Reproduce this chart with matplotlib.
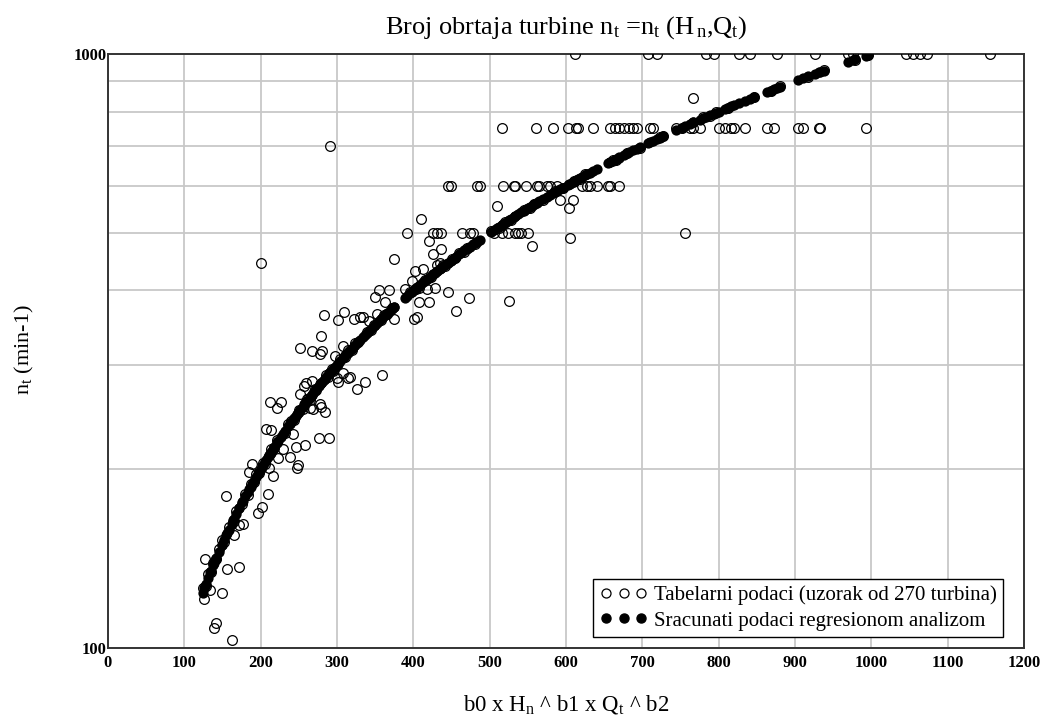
import matplotlib
matplotlib.use("Agg")
import matplotlib.pyplot as plt
from matplotlib.lines import Line2D
from matplotlib.ticker import FixedLocator, NullFormatter

plt.rcParams['font.family'] = ['Liberation Serif', 'DejaVu Serif']
plt.rcParams['mathtext.fontset'] = 'custom'
plt.rcParams['mathtext.rm'] = 'Liberation Serif'
plt.rcParams['mathtext.it'] = 'Liberation Serif:italic'

# ---- data: regression value (x) and tabulated speed (n) for each turbine ----
pred = [
    # lower cluster
    155, 127, 126, 134, 149, 156, 172, 141, 139, 162, 177, 172, 165, 149, 189, 185,
    210, 202, 196, 216, 211, 207, 213, 221, 227, 212, 242, 258, 246, 238, 223, 229,
    249, 248, 276, 290, 284, 279, 265, 269,
    # middle cluster
    200, 252, 267, 278, 280, 297, 260, 257, 267, 252, 278,
    510, 592, 609, 604, 605, 410, 555, 420, 436, 426, 375, 431, 435, 402, 413, 398,
    389, 355, 368, 350, 407, 418, 428, 445, 473, 456, 525, 407, 420, 401, 405, 363,
    375, 352, 309, 301, 322, 330, 334, 342, 283, 279, 308, 308, 317, 314, 300, 301,
    337, 326, 359, 291, 767,
    # n = 500
    392, 426, 431, 436, 464, 474, 478, 506, 516, 524, 533, 537, 541, 550, 756,
    # n = 600
    445, 449, 483, 487, 518, 532, 533, 548, 562, 565, 575, 579, 588, 621, 627, 631,
    640, 655, 658, 669,
    # n = 750
    516, 561, 583, 602, 613, 616, 636, 658, 664, 670, 676, 683, 688, 693, 710, 714,
    744, 762, 767, 775, 800, 808, 816, 820, 834, 863, 872, 904, 911, 931, 933, 993,
    # n = 1000
    612, 707, 719, 784, 794, 826, 841, 876, 926, 970, 976, 1046, 1055, 1064, 1073, 1155,
    # turbines lying on the regression curve
    124, 128, 131, 135, 138, 142, 145, 152, 158, 164, 168, 176, 180, 183, 187, 191,
    194, 198, 203, 206, 214, 218, 222, 232, 236, 240, 244, 250, 255, 261, 264, 271,
    273, 286, 288, 293, 295, 304, 311, 315, 319, 324, 328, 339, 345, 348, 358, 362,
    366, 372, 396, 404, 415, 423, 439, 442, 450, 454, 460, 467, 470, 481, 502, 512,
    520, 528, 545, 553, 558, 570, 585, 596, 610, 618, 625, 661, 666, 680, 697, 723,
    727, 752, 780, 788, 797, 812, 846, 868, 880, 917, 938, 979, 996,
]
actual = [
    180, 141, 121, 125, 124, 136, 137, 110, 108, 103, 162, 161, 155, 152, 204, 198,
    182, 173, 169, 195, 201, 234, 233, 254, 259, 260, 229, 220, 218, 210, 209, 216,
    203, 201, 226, 226, 250, 255, 254, 253,
    445, 320, 316, 312, 316, 310, 279, 276, 281, 268, 257,
    555, 568, 568, 550, 490, 527, 475, 484, 470, 461, 452, 441, 445, 431, 435, 415,
    402, 400, 400, 390, 404, 402, 404, 398, 388, 369, 384, 382, 382, 358, 361, 382,
    358, 365, 368, 356, 358, 361, 361, 355, 363, 335, 322, 290, 286, 285, 285, 280,
    280, 273, 288, 700, 843,
    500, 500, 500, 500, 500, 500, 500, 500, 500, 500, 500, 500, 500, 500, 500,
    600, 600, 600, 600, 600, 600, 600, 600, 600, 600, 600, 600, 600, 600, 600, 600,
    600, 600, 600, 600,
    750, 750, 750, 750, 750, 750, 750, 750, 750, 750, 750, 750, 750, 750, 750, 750,
    750, 750, 750, 750, 750, 750, 750, 750, 750, 750, 750, 750, 750, 750, 750, 750,
    1000, 1000, 1000, 1000, 1000, 1000, 1000, 1000, 1000, 1000, 1000, 1000, 1000, 1000, 1000, 1000,
    126, 127, 133, 134, 139, 141, 147, 151, 160, 163, 170, 175, 182, 181, 189, 190,
    196, 197, 205, 204, 216, 217, 224, 230, 238, 241, 242, 252, 253, 263, 262, 273,
    272, 288, 286, 295, 293, 306, 309, 317, 318, 326, 327, 341, 343, 350, 356, 364,
    365, 374, 398, 402, 417, 421, 441, 440, 452, 453, 462, 465, 472, 479, 504, 510,
    522, 526, 547, 551, 560, 568, 587, 594, 612, 616, 627, 663, 664, 682, 695, 725,
    729, 750, 782, 786, 799, 810, 848, 866, 882, 915, 940, 977, 998,
]

x_ticks = [0, 100, 200, 300, 400, 500, 600, 700, 800, 900, 1000, 1100, 1200]
y_major = [100, 1000]
y_minor = [200, 300, 400, 500, 600, 700, 800, 900]

title = r"Broj obrtaja turbine $\mathregular{n_t}$ =$\mathregular{n_t}$ ($\mathregular{H_{\,n}}$,$\mathregular{Q_t}$)"
xlabel = r"b0 x $\mathregular{H_n}$ ^ b1 x $\mathregular{Q_t}$ ^ b2"
ylabel = r"$\mathregular{n_t}$ (min-1)"
legend_labels = ["Tabelarni podaci (uzorak od 270 turbina)",
                 "Sracunati podaci regresionom analizom"]

# ---- figure ----
W, H = 1045, 716
fig = plt.figure(figsize=(W / 100, H / 100), dpi=100)
L, R, T, B = 108, 1024, 54, 648
ax = fig.add_axes([L / W, 1 - B / H, (R - L) / W, (B - T) / H])

ax.set_yscale('log')
ax.set_xlim(0, 1200)
ax.set_ylim(100, 1000)

ax.plot(pred, actual, linestyle='none', marker='o', markersize=7,
        markerfacecolor='none', markeredgecolor='black', markeredgewidth=0.9,
        zorder=3)
ax.plot(pred, pred, linestyle='none', marker='o', markersize=7.4,
        markerfacecolor='black', markeredgecolor='black', markeredgewidth=0,
        zorder=4)

ax.xaxis.set_major_locator(FixedLocator(x_ticks))
ax.yaxis.set_major_locator(FixedLocator(y_major))
ax.yaxis.set_minor_locator(FixedLocator(y_minor))
ax.yaxis.set_minor_formatter(NullFormatter())
ax.set_xticklabels([str(v) for v in x_ticks])
ax.set_yticklabels([str(v) for v in y_major])
for lab in ax.get_xticklabels() + ax.get_yticklabels():
    lab.set_fontweight('bold')
    lab.set_fontsize(12)
ax.tick_params(which='both', length=0)
ax.tick_params(axis='x', pad=5)
ax.tick_params(axis='y', pad=1)

ax.grid(which='both', color='#c8c8c8', linewidth=1.3, zorder=0)
ax.set_axisbelow(True)
for s in ax.spines.values():
    s.set_color('#333333')
    s.set_linewidth(1.4)

fig.text((L + R) / 2 / W, 1 - 28 / H, title, ha='center', va='center', fontsize=19)
fig.text((L + R) / 2 / W, 1 - 704 / H, xlabel, ha='center', va='center', fontsize=16.5)
fig.text(24 / W, 1 - 350 / H, ylabel, ha='center', va='center', fontsize=16, rotation=90)

handles = [
    Line2D([], [], linestyle='none', marker='o', markersize=6.5,
           markerfacecolor='none', markeredgecolor='black', markeredgewidth=0.9),
    Line2D([], [], linestyle='none', marker='o', markersize=6.5,
           markerfacecolor='black', markeredgecolor='black'),
]
leg = ax.legend(handles, legend_labels, loc='lower right',
                bbox_to_anchor=((1003 - L) / (R - L), (B - 637) / (B - T)),
                borderaxespad=0, numpoints=3, fontsize=15, fancybox=False,
                framealpha=1, edgecolor='black', handlelength=2.3,
                handletextpad=0.3, labelspacing=0.3, borderpad=0.3)
leg.get_frame().set_linewidth(1.0)

fig.savefig("out.png", dpi=100)
